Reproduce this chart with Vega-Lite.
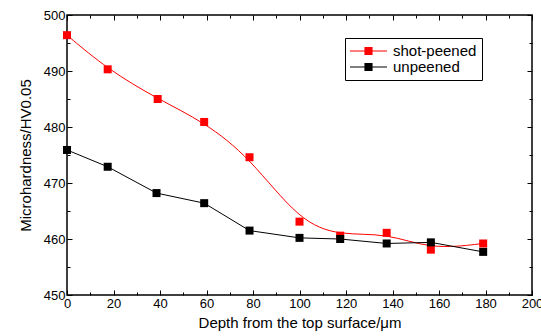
{
  "$schema": "https://vega.github.io/schema/vega-lite/v6.json",
  "width": 465,
  "height": 280,
  "autosize": {"type": "none"},
  "padding": {"left": 67, "top": 15, "right": 9, "bottom": 41},
  "background": "white",
  "config": {
    "font": "Liberation Sans",
    "view": {"stroke": "black", "strokeWidth": 1.5},
    "legend": {"strokeWidth": 1},
    "axis": {
      "domain": false,
      "grid": false,
      "tickColor": "black",
      "tickWidth": 1,
      "labelColor": "black",
      "labelFontSize": 13,
      "titleColor": "black",
      "titleFontSize": 15,
      "titleFontWeight": "normal"
    }
  },
  "data": {
    "values": [
      {"depth": 0, "hv": 496.4, "series": "shot-peened"},
      {"depth": 17.5, "hv": 490.3, "series": "shot-peened"},
      {"depth": 39, "hv": 485.0, "series": "shot-peened"},
      {"depth": 59, "hv": 480.9, "series": "shot-peened"},
      {"depth": 78.5, "hv": 474.6, "series": "shot-peened"},
      {"depth": 100, "hv": 463.1, "series": "shot-peened"},
      {"depth": 117.5, "hv": 460.6, "series": "shot-peened"},
      {"depth": 137.5, "hv": 461.1, "series": "shot-peened"},
      {"depth": 156.5, "hv": 458.1, "series": "shot-peened"},
      {"depth": 179, "hv": 459.2, "series": "shot-peened"},
      {"depth": 0, "hv": 475.9, "series": "unpeened"},
      {"depth": 17.5, "hv": 472.9, "series": "unpeened"},
      {"depth": 38.5, "hv": 468.2, "series": "unpeened"},
      {"depth": 59, "hv": 466.4, "series": "unpeened"},
      {"depth": 78.5, "hv": 461.5, "series": "unpeened"},
      {"depth": 100, "hv": 460.2, "series": "unpeened"},
      {"depth": 117.5, "hv": 460.0, "series": "unpeened"},
      {"depth": 137.5, "hv": 459.2, "series": "unpeened"},
      {"depth": 156.5, "hv": 459.4, "series": "unpeened"},
      {"depth": 179, "hv": 457.7, "series": "unpeened"}
    ]
  },
  "layer": [
    {
      "transform": [{"filter": "datum.series === 'shot-peened'"}],
      "mark": {"type": "line", "interpolate": "basis", "color": "#ff0000", "strokeWidth": 1},
      "encoding": {
        "x": {
          "field": "depth", "type": "quantitative",
          "scale": {"domain": [0, 200], "nice": false},
          "axis": {
            "orient": "bottom",
            "title": "Depth from the top surface/μm",
            "values": [0,10,20,30,40,50,60,70,80,90,100,110,120,130,140,150,160,170,180,190,200],
            "labelExpr": "datum.value % 20 === 0 ? datum.label : ''",
            "tickSize": {"condition": {"test": "datum.value % 20 === 0", "value": -5}, "value": -3},
            "labelPadding": 7,
            "titlePadding": 5,
            "labelFlush": false
          }
        },
        "y": {
          "field": "hv", "type": "quantitative",
          "scale": {"domain": [450, 500], "nice": false, "zero": false},
          "axis": {
            "orient": "left",
            "title": "Microhardness/HV0.05",
            "values": [450,455,460,465,470,475,480,485,490,495,500],
            "labelExpr": "datum.value % 10 === 0 ? datum.label : ''",
            "tickSize": {"condition": {"test": "datum.value % 10 === 0", "value": -5}, "value": -3},
            "labelPadding": 7,
            "titlePadding": 10,
            "labelFlush": false
          }
        }
      }
    },
    {
      "transform": [{"filter": "datum.series === 'unpeened'"}],
      "mark": {"type": "line", "color": "#000000", "strokeWidth": 1},
      "encoding": {
        "x": {
          "field": "depth", "type": "quantitative",
          "scale": {"domain": [0, 200], "nice": false},
          "axis": {
            "orient": "top",
            "title": null,
            "labels": false,
            "values": [0,10,20,30,40,50,60,70,80,90,100,110,120,130,140,150,160,170,180,190,200],
            "tickSize": {"condition": {"test": "datum.value % 20 === 0", "value": -5}, "value": -3}
          }
        },
        "y": {
          "field": "hv", "type": "quantitative",
          "scale": {"domain": [450, 500], "nice": false, "zero": false},
          "axis": {
            "orient": "right",
            "title": null,
            "labels": false,
            "values": [450,455,460,465,470,475,480,485,490,495,500],
            "tickSize": {"condition": {"test": "datum.value % 10 === 0", "value": -5}, "value": -3}
          }
        }
      }
    },
    {
      "mark": {"type": "square", "filled": true, "size": 64, "opacity": 1},
      "encoding": {
        "x": {"field": "depth", "type": "quantitative", "axis": null},
        "y": {"field": "hv", "type": "quantitative", "axis": null},
        "color": {
          "field": "series", "type": "nominal",
          "scale": {"domain": ["shot-peened", "unpeened"], "range": ["#ff0000", "#000000"]},
          "legend": {
            "orient": "none",
            "legendX": 278,
            "legendY": 23,
            "title": null,
            "strokeColor": "black",
            "padding": 5,
            "symbolType": "M-1,-0.03H1V0.03H-1Z M-0.22,-0.22H0.22V0.22H-0.22Z",
            "symbolSize": 1369,
            "symbolStrokeWidth": 0,
            "symbolOpacity": 1,
            "clipHeight": 16,
            "rowPadding": 0,
            "labelFontSize": 15,
            "labelColor": "black",
            "labelOffset": 6
          }
        }
      }
    }
  ],
  "resolve": {"axis": {"x": "independent", "y": "independent"}}
}
